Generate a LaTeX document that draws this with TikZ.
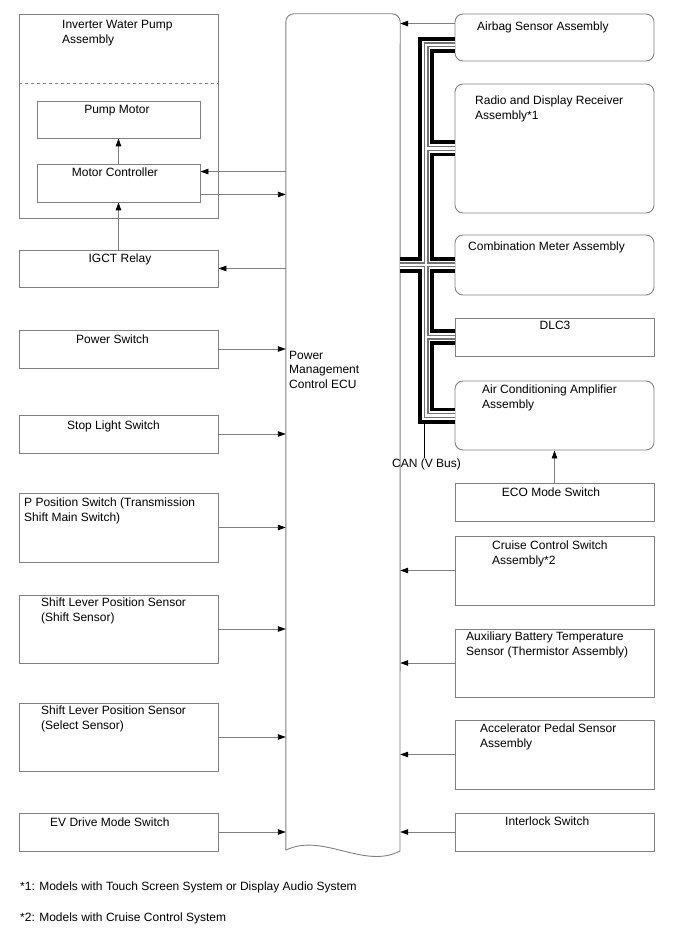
\documentclass[tikz,border=0pt]{standalone}
\usepackage{fontspec}
\setmainfont{Liberation Sans}
\usetikzlibrary{arrows.meta,fit}
\definecolor{linegray}{HTML}{808080}

\begin{document}
\begin{tikzpicture}[
  x=1pt,y=-1pt,
  font=\fontsize{12}{14.5}\selectfont,
  box/.style={draw=linegray,line width=0.9pt,inner sep=0pt},
  rbox/.style={box,rounded corners=8pt},
  wire/.style={draw=linegray,line width=0.9pt,-{Triangle[length=8pt,width=5.5pt,black]}},
  lbl/.style={inner sep=0pt,anchor=base west},
  lblc/.style={inner sep=0pt,anchor=base},
  blk/.style={inner sep=0pt,anchor=north west,align=left},
  canbus/.style={draw=black,line width=16pt,
    postaction={draw=white,line width=8.5pt},
    postaction={draw=black!55,line width=5pt},
    postaction={draw=white,line width=2.5pt}},
]
\useasboundingbox (0,0) rectangle (688,949);

\node[box,fit={(19,14) (218,218)}] (invpump) {};
\draw[draw=linegray,line width=0.8pt,dashed] (invpump.west |- 0,83) -- (invpump.east |- 0,83);
\node[blk] (t-invpump) at (62,20.5) {Inverter Water Pump\\Assembly};
\node[box,fit={(37,101) (200,138)}] (pumpmtr) {};
\node[lblc] (t-pumpmtr) at (117,113.5) {Pump Motor};
\node[box,fit={(37,164) (200,202)}] (mtrctrl) {};
\node[lblc] (t-mtrctrl) at (115,177) {Motor Controller};
\node[box,fit={(19,250) (218,287)}] (igct) {};
\node[lblc] (t-igct) at (120,262) {IGCT Relay};
\node[box,fit={(19,330) (218,368)}] (pwrsw) {};
\node[lbl] (t-pwrsw) at (76,343) {Power Switch};
\node[box,fit={(19,415) (218,453)}] (stopsw) {};
\node[lbl] (t-stopsw) at (67,429) {Stop Light Switch};
\node[box,fit={(19,493) (218,562)}] (ppos) {};
\node[blk] (t-ppos) at (24,498) {P Position Switch (Transmission\\Shift Main Switch)};
\node[box,fit={(19,595) (218,663)}] (shiftsns) {};
\node[blk] (t-shiftsns) at (41,598) {Shift Lever Position Sensor\\(Shift Sensor)};
\node[box,fit={(19,703) (218,771)}] (selsns) {};
\node[blk] (t-selsns) at (41,706) {Shift Lever Position Sensor\\(Select Sensor)};
\node[box,fit={(19,813) (218,851)}] (evsw) {};
\node[lbl] (t-evsw) at (50,826) {EV Drive Mode Switch};

\node[fit={(286,14) (400,850)},inner sep=0pt] (ecu) {};
\draw[draw=linegray,line width=0.9pt,rounded corners=8pt] (ecu.south west) -- (ecu.north west) -- (ecu.north east) -- (400,851);
\draw[draw=linegray,line width=0.9pt] (400,851) .. controls (364,870) and (322,832) .. (ecu.south west);
\node[blk] (t-ecu) at (289,351) {Power\\Management\\Control ECU};

\node[rbox,fit={(455,14) (654,61)}] (airbag) {};
\node[lbl] (t-airbag) at (477,31) {Airbag Sensor Assembly};
\node[rbox,fit={(455,84) (654,213)}] (radio) {};
\node[blk] (t-radio) at (475,96) {Radio and Display Receiver\\Assembly*1};
\node[rbox,fit={(455,235) (654,295)}] (combmtr) {};
\node[lbl] (t-combmtr) at (468,251) {Combination Meter Assembly};
\node[box,fit={(455,318) (654,356)}] (dlc) {};
\node[lblc] (t-dlc) at (555,329) {DLC3};
\node[rbox,fit={(455,381) (654,450)}] (acamp) {};
\node[blk] (t-acamp) at (482,385) {Air Conditioning Amplifier\\Assembly};
\node[box,fit={(455,483) (654,521)}] (ecosw) {};
\node[lblc] (t-ecosw) at (551,496) {ECO Mode Switch};
\node[box,fit={(455,536) (654,605)}] (cruise) {};
\node[blk] (t-cruise) at (492,541) {Cruise Control Switch\\Assembly*2};
\node[box,fit={(455,629) (654,697)}] (auxtemp) {};
\node[blk] (t-auxtemp) at (466,632) {Auxiliary Battery Temperature\\Sensor (Thermistor Assembly)};
\node[box,fit={(455,720) (654,789)}] (accel) {};
\node[blk] (t-accel) at (480,724) {Accelerator Pedal Sensor\\Assembly};
\node[box,fit={(455,813) (654,851)}] (interlock) {};
\node[lbl] (t-interlock) at (505,825) {Interlock Switch};

\coordinate (cantop) at (426,45);
\draw[canbus] (cantop -| airbag.west) -- (cantop) -- (acamp -| cantop) -- (acamp.west)
  (radio -| cantop) -- (radio.west)
  (combmtr -| ecu.east) -- (combmtr.west)
  (dlc -| cantop) -- (dlc.west);
\node[lbl] (canlbl) at (392,467) {CAN (V Bus)};
\coordinate (canend) at (424,423);
\draw[line width=0.8pt] (canend) -- (canend |- canlbl.north);

\coordinate (mcin) at ([yshift=-8pt]mtrctrl.north east);
\coordinate (mcout) at ([yshift=8pt]mtrctrl.south east);
\coordinate (airbagin) at ([yshift=-10pt]airbag.north west);
\draw[wire] (mtrctrl) -- (pumpmtr);
\draw[wire] (igct) -- (mtrctrl);
\draw[wire] (mcin -| ecu.west) -- (mcin);
\draw[wire] (mcout) -- (mcout -| ecu.west);
\draw[wire] (igct -| ecu.west) -- (igct);
\draw[wire] (pwrsw) -- (pwrsw -| ecu.west);
\draw[wire] (stopsw) -- (stopsw -| ecu.west);
\draw[wire] (ppos) -- (ppos -| ecu.west);
\draw[wire] (shiftsns) -- (shiftsns -| ecu.west);
\draw[wire] (selsns) -- (selsns -| ecu.west);
\draw[wire] (evsw) -- (evsw -| ecu.west);
\draw[wire] (airbagin) -- (airbagin -| ecu.east);
\draw[wire] (ecosw) -- (acamp);
\draw[wire] (cruise) -- (cruise -| ecu.east);
\draw[wire] (auxtemp) -- (auxtemp -| ecu.east);
\draw[wire] (accel) -- (accel -| ecu.east);
\draw[wire] (interlock) -- (interlock -| ecu.east);

\node[lbl] (note1) at (20,890) {*1: Models with Touch Screen System or Display Audio System};
\node[lbl] (note2) at (20,921) {*2: Models with Cruise Control System};
\end{tikzpicture}
\end{document}
